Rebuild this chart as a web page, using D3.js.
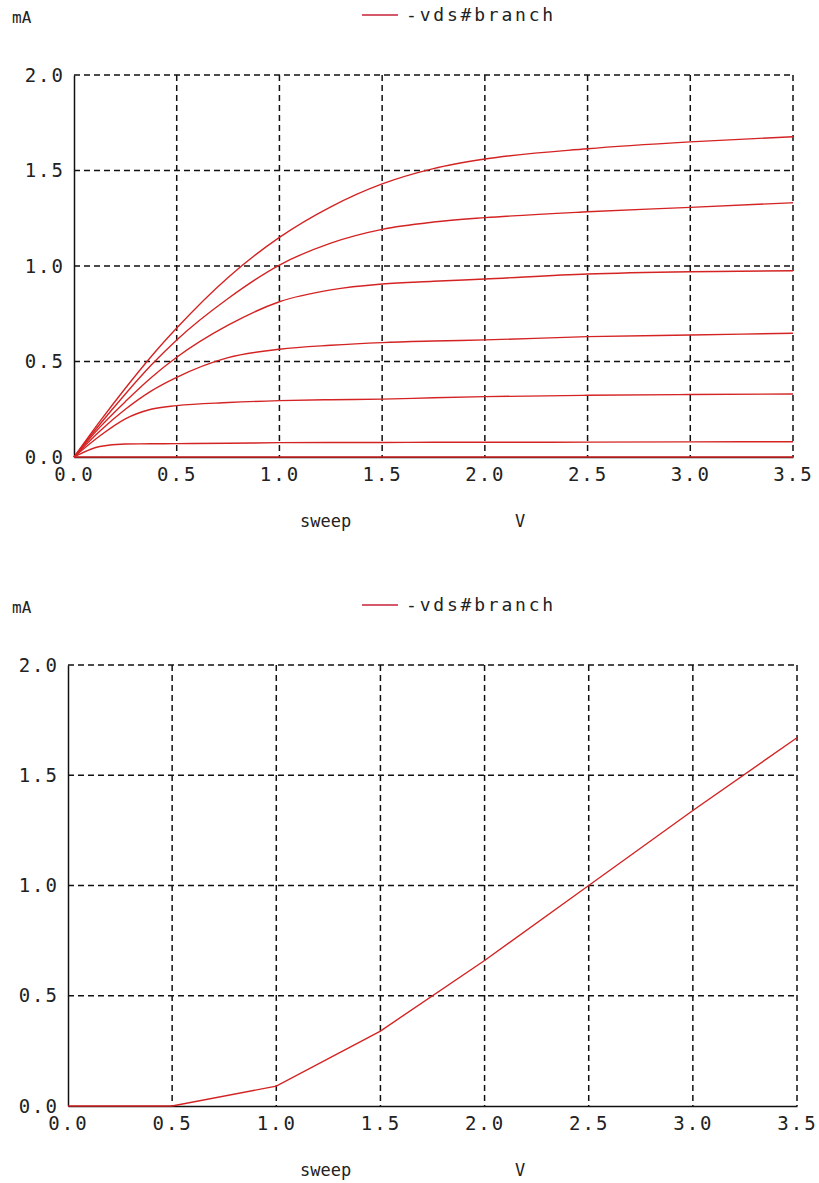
<!DOCTYPE html>
<html><head><meta charset="utf-8">
<script src="https://cdn.jsdelivr.net/npm/d3@7"></script>
<style>
html,body{margin:0;padding:0;background:#fff;}
text{font-family:"DejaVu Sans Mono",monospace;fill:#222;}
</style></head>
<body><svg id="c" width="819" height="1183"></svg>
<script>
// ---- data ----
const sweepX = [0, 0.125, 0.25, 0.375, 0.5, 0.75, 1.0, 1.25, 1.5, 1.75, 2.0, 2.5, 3.0, 3.5];
const curve1 = [0, 0.185, 0.36, 0.525, 0.675, 0.94, 1.15, 1.31, 1.43, 1.51, 1.56, 1.614, 1.65, 1.677];
const curve2 = [0, 0.17, 0.33, 0.48, 0.613, 0.83, 1.005, 1.12, 1.192, 1.23, 1.253, 1.284, 1.307, 1.331];
const curve3 = [0, 0.155, 0.29, 0.415, 0.522, 0.69, 0.813, 0.875, 0.906, 0.92, 0.932, 0.958, 0.970, 0.975];
const curve4 = [0, 0.135, 0.25, 0.345, 0.417, 0.52, 0.564, 0.585, 0.599, 0.607, 0.613, 0.63, 0.639, 0.648];
const curve5 = [0, 0.11, 0.2, 0.25, 0.269, 0.285, 0.295, 0.3, 0.303, 0.31, 0.316, 0.323, 0.327, 0.33];
const curve6 = [0, 0.055, 0.068, 0.069, 0.07, 0.072, 0.075, 0.076, 0.076, 0.077, 0.077, 0.078, 0.079, 0.08];
const curve7 = [0, 0, 0, 0, 0, 0, 0, 0, 0, 0, 0, 0, 0, 0];
const topSeries = [curve1, curve2, curve3, curve4, curve5, curve6, curve7];

const sweep2X = [0, 0.5, 1.0, 1.5, 2.0, 2.5, 3.0, 3.5];
const sweep2Y = [0, 0, 0.09, 0.34, 0.66, 1.0, 1.34, 1.67];

const xTicks = [0, 0.5, 1.0, 1.5, 2.0, 2.5, 3.0, 3.5];
const yTicks = [0, 0.5, 1.0, 1.5, 2.0];
const legendLabel = "-vds#branch";
const yUnit = "mA";
const xLabel = "sweep";
const xUnit = "V";

const RED = "#d42323";
const svg = d3.select("#c");

function panel(cfg, seriesList, xs, curveType) {
  const g = svg.append("g");
  const x = d3.scaleLinear().domain([0, 3.5]).range([cfg.x0, cfg.x1]);
  const y = d3.scaleLinear().domain([0, 2]).range([cfg.y0, cfg.y1]);
  // header
  g.append("text").attr("x", 12).attr("y", cfg.top + 23).style("font-size", "16px").text(yUnit);
  g.append("line").attr("x1", 362).attr("x2", 398).attr("y1", cfg.top + 15).attr("y2", cfg.top + 15)
    .attr("stroke", "#c8203a").attr("stroke-width", 1.5);
  g.append("text").attr("x", 406).attr("y", cfg.top + 21).style("font-size", "18px").style("letter-spacing", "2.8px").text(legendLabel);
  // grid
  const dash = "6,4";
  g.selectAll(".vg").data(xTicks.slice(1)).join("line")
    .attr("x1", d => x(d)).attr("x2", d => x(d)).attr("y1", y(2)).attr("y2", y(0))
    .attr("stroke", "#111").attr("stroke-width", 1.5).attr("stroke-dasharray", dash);
  g.selectAll(".hg").data(yTicks.slice(1)).join("line")
    .attr("x1", x(0)).attr("x2", x(3.5)).attr("y1", d => y(d)).attr("y2", d => y(d))
    .attr("stroke", "#111").attr("stroke-width", 1.5).attr("stroke-dasharray", dash);
  // axes
  const xa = g.append("g").attr("transform", `translate(0,${cfg.y0})`)
    .call(d3.axisBottom(x).tickValues(xTicks).tickFormat(d3.format(".1f")).tickSize(0).tickPadding(11));
  xa.select(".domain").attr("stroke", "#111").attr("stroke-width", 1.5);
  xa.selectAll("text").style("font-size", "19px").style("letter-spacing", "2px").style("fill", "#222");
  const ya = g.append("g").attr("transform", `translate(${cfg.x0},0)`)
    .call(d3.axisLeft(y).tickValues(yTicks).tickFormat(d3.format(".1f")).tickSize(0).tickPadding(9));
  ya.select(".domain").attr("stroke", "#111").attr("stroke-width", 1.5);
  ya.selectAll("text").style("font-size", "19px").style("letter-spacing", "2px").style("fill", "#222");
  // axis labels
  g.append("text").attr("x", 300).attr("y", cfg.y0 + 70).style("font-size", "17px").text(xLabel);
  g.append("text").attr("x", 515).attr("y", cfg.y0 + 70).style("font-size", "17px").text(xUnit);
  // curves
  const line = d3.line().x((d, i) => x(xs[i])).y(d => y(d)).curve(curveType);
  g.selectAll(".crv").data(seriesList).join("path")
    .attr("d", line).attr("fill", "none").attr("stroke", RED).attr("stroke-width", 1.4);
}

panel({top: 0, x0: 74, x1: 793, y0: 457, y1: 75}, topSeries, sweepX, d3.curveMonotoneX);
panel({top: 590, x0: 68, x1: 797, y0: 1106, y1: 665}, [sweep2Y], sweep2X, d3.curveLinear);
</script></body></html>
